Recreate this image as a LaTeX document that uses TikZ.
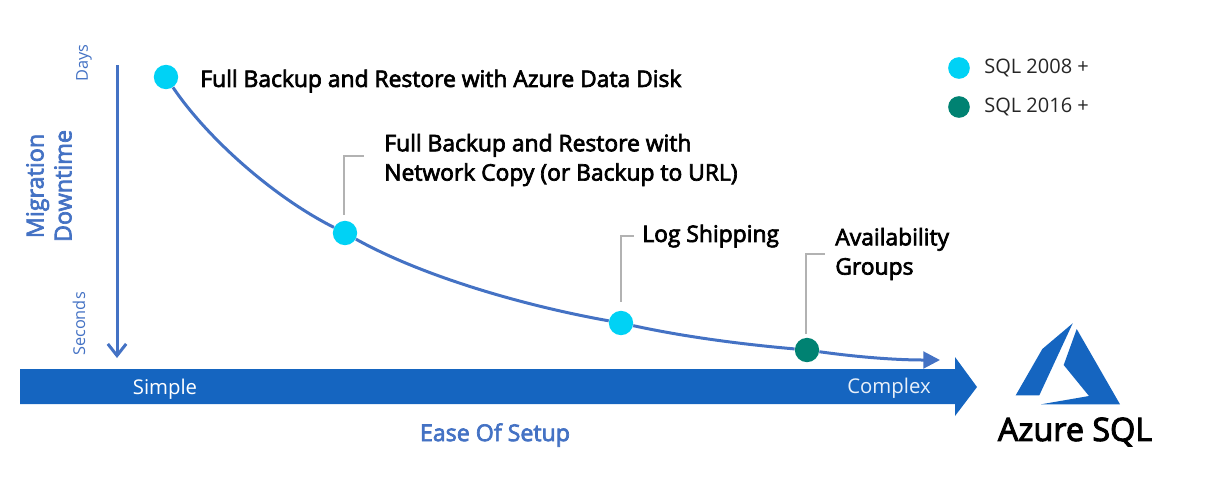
\documentclass[tikz,border=0pt]{standalone}
\usepackage{fontspec}
\setmainfont{Open Sans}
\newfontfamily\semifont[FakeBold=3]{Open Sans}
\usetikzlibrary{arrows.meta,positioning,calc}
\definecolor{curveblue}{HTML}{4472C4}
\definecolor{barblue}{HTML}{1565C0}
\definecolor{dotcyan}{HTML}{00D2F5}
\definecolor{dotgreen}{HTML}{008272}
\tikzset{
  x=0.6pt, y=-0.6pt,
  dot/.style={circle, minimum size=14.6pt, inner sep=0pt},
  legdot/.style={circle, minimum size=13pt, inner sep=0pt},
  title/.style={font=\semifont\fontsize{13.7}{17.6}\selectfont, align=left, text=black, inner sep=0pt},
  legend/.style={font=\fontsize{12}{14}\selectfont, text=black!85, inner sep=0pt},
  axislabel/.style={font=\fontsize{9.8}{11}\selectfont, text=curveblue, inner sep=0pt, rotate=90},
  leader/.style={draw=black!30, line width=0.7pt},
  curve/.style={draw=curveblue, line width=1.8pt},
  arrow/.style={-{Triangle[length=10pt,width=10pt]}, curve}
}
\begin{document}
\begin{tikzpicture}
\useasboundingbox (0,0) rectangle (1208,494);

% --- Bottom bar
\fill[barblue] (20,369) -- (955,369) -- (955,357) -- (977,387) -- (955,416) -- (955,404) -- (20,404) -- cycle;
\node[font=\fontsize{12.2}{14}\selectfont, text=white, inner sep=0pt] (simple) at (165,389) {Simple};
\node[font=\fontsize{12.2}{14}\selectfont, text=white!90!barblue, inner sep=0pt] (complex) at (889,388) {Complex};
\node[font=\semifont\fontsize{13.9}{15}\selectfont, text=curveblue, inner sep=0pt] (ease) at (495,435) {Ease Of Setup};

% --- Vertical axis
\coordinate (top) at (117,65);
\coordinate (bottom) at (117,358);
\draw[curve, -{Straight Barb[length=7pt,width=11pt]}] (top) -- (bottom);
\node[axislabel] (days) at (84,63) {Days};
\node[axislabel] (seconds) at (79,324) {Seconds};
\node[font=\semifont\fontsize{14}{16.8}\selectfont, text=curveblue, align=center, inner sep=0pt, rotate=90] (downtime) at (49,186) {Migration\\Downtime};

% --- Points on the curve
\node[dot, fill=dotcyan] (full) at (166,77) {};
\node[dot, fill=dotcyan] (copy) at (345,233) {};
\node[dot, fill=dotcyan] (log) at (621,323) {};
\node[dot, fill=dotgreen] (ag) at (807,350) {};
\coordinate (end) at (940,360);

% --- Labels
\node[title, anchor=west] (fulltxt) at (200,81) {Full Backup and Restore with Azure Data Disk};
\node[title, anchor=west] (copytxt) at (384,160) {Full Backup and Restore with\\Network Copy (or Backup to URL)};
\node[title, anchor=west] (logtxt) at (642,236) {Log Shipping};
\node[title, anchor=west] (agtxt) at (835,254) {Availability\\Groups};

% --- Legend
\node[legdot, fill=dotcyan] (old) at (959,68) {};
\node[legdot, fill=dotgreen] (new) at (959,107) {};
\node[legend, anchor=west] (oldtxt) at (984,68) {SQL 2008 +};
\node[legend, anchor=west] (newtxt) at (984,107) {SQL 2016 +};

% --- Curve
\draw[curve] (full) .. controls (205,135) and (270,195) .. (copy);
\draw[curve] (copy) .. controls (420,275) and (520,305) .. (log);
\draw[curve] (log) .. controls (690,338) and (750,345) .. (ag);
\draw[arrow] (ag) .. controls (850,356) and (890,360) .. (end);

% --- Leaders
\draw[leader] (copy.north) ++(-1,-6) |- ([xshift=-12pt]copytxt.west |- 0,156);
\draw[leader] (log.north) ++(0,-9) |- ([xshift=-5pt]logtxt.west);
\draw[leader] (ag.north) ++(-1,-4) |- ([xshift=-6pt]agtxt.west);

% --- Logo
\fill[barblue] (1072.7,323.3) -- (1042.3,349) -- (1015.7,395.3) -- (1039.3,395.3) -- cycle;
\fill[barblue] (1076.7,329) -- (1063.7,365) -- (1089,396) -- (1041,404.3) -- (1120,404.3) -- cycle;
\node[font=\semifont\fontsize{19.4}{21}\selectfont, text=black, inner sep=0pt] (azure) at (1075,432) {Azure SQL};

\end{tikzpicture}
\end{document}
